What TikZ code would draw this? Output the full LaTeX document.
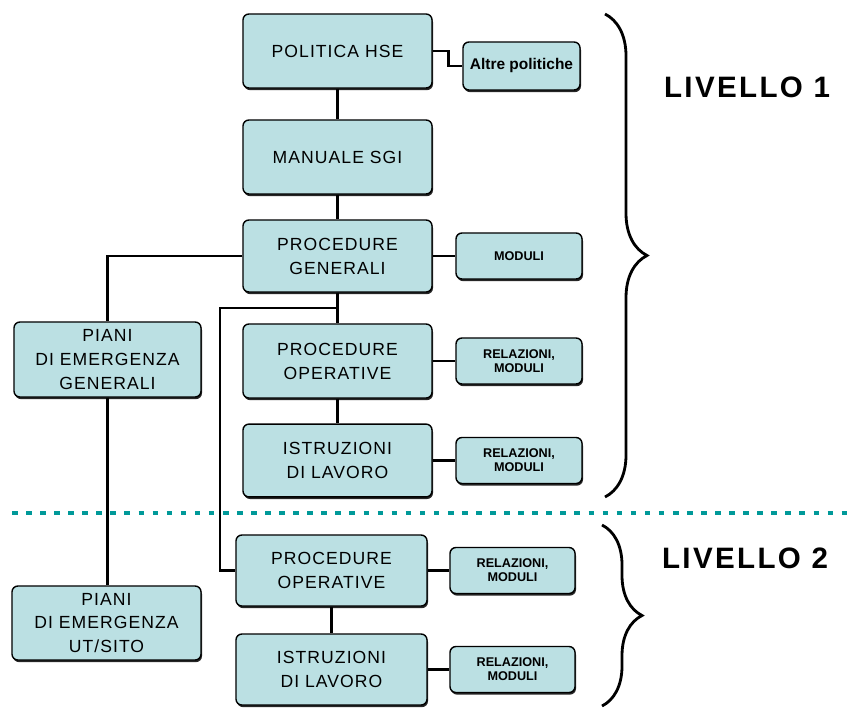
\documentclass[tikz,border=0pt]{standalone}
\usepackage{fontspec}
\setmainfont{Liberation Sans}
\newfontfamily\boxfont[LetterSpace=6]{Liberation Sans}
\newfontfamily\levelfont[LetterSpace=8]{Liberation Sans}
\usetikzlibrary{shadows,decorations.pathreplacing}
\definecolor{boxblue}{RGB}{187,224,227}
\definecolor{lineteal}{RGB}{0,153,153}

\begin{document}
\begin{tikzpicture}[x=0.025cm, y=-0.025cm,
        box/.style={draw, line width=1pt, fill=boxblue, rounded corners=0.15cm,
            drop shadow={shadow xshift=0.7pt, shadow yshift=-1.5pt, fill=black!85, opacity=1},
            align=center, inner sep=2pt, font=\boxfont\fontsize{12.5}{17}\selectfont},
        smallbox/.style={box, minimum width=3.15cm, minimum height=1.15cm,
            font=\bfseries\fontsize{9}{10}\selectfont},
        link/.style={line width=2pt},
        level/.style={font=\levelfont\bfseries\fontsize{21}{24}\selectfont}]
        \useasboundingbox (0,0) rectangle (852,709);

        % Level 1 documents
        \node[box, minimum width=4.725cm, minimum height=1.85cm] (pol) at (337.5,51) {POLITICA HSE};
        \node[box, minimum width=4.725cm, minimum height=1.85cm] (man) at (337.5,157) {MANUALE SGI};
        \node[box, minimum width=4.725cm, minimum height=1.8cm] (pgen) at (337.5,256) {PROCEDURE\\GENERALI};
        \node[box, minimum width=4.725cm, minimum height=1.85cm] (pop1) at (337.5,361) {PROCEDURE\\OPERATIVE};
        \node[box, minimum width=4.725cm, minimum height=1.82cm] (istr1) at (337.5,460.5) {ISTRUZIONI\\DI LAVORO};

        % Attached records
        \node[smallbox, minimum width=2.925cm, minimum height=1.2cm, font=\bfseries\fontsize{11}{12}\selectfont] (alt) at (521.5,66) {Altre politiche};
        \node[smallbox] (mod1) at (519,256) {MODULI};
        \node[smallbox] (rel1) at (519,361) {RELAZIONI,\\MODULI};
        \node[smallbox] (rel2) at (519,460.5) {RELAZIONI,\\MODULI};

        % Emergency plans
        \node[box, minimum width=4.675cm, minimum height=1.875cm] (pem) at (107.5,359.5) {PIANI\\DI EMERGENZA\\GENERALI};
        \node[box, minimum width=4.725cm, minimum height=1.85cm] (pemut) at (106.5,623) {PIANI\\DI EMERGENZA\\UT/SITO};

        % Level 2 documents
        \node[box, minimum width=4.775cm, minimum height=1.775cm] (pop2) at (331.5,570.5) {PROCEDURE\\OPERATIVE};
        \node[box, minimum width=4.775cm, minimum height=1.775cm] (istr2) at (331.5,669.5) {ISTRUZIONI\\DI LAVORO};
        \node[smallbox, minimum width=3.125cm] (rel3) at (512.5,570.5) {RELAZIONI,\\MODULI};
        \node[smallbox, minimum width=3.125cm] (rel4) at (512.5,669.5) {RELAZIONI,\\MODULI};

        % Connectors
        \draw[link] (pol) -- (man);
        \draw[link] (man) -- (pgen);
        \draw[link] (pgen) -- (pop1);
        \draw[link] (pop1) -- (istr1);
        \draw[link] (pop2) -- (istr2);
        \draw[link] (pol.east) -- ++(16,0) |- (alt.west);
        \draw[link] (pgen.east) -- (mod1.west);
        \draw[link] (pop1.east) -- (rel1.west);
        \draw[link] (istr1.east) -- (rel2.west);
        \draw[link] (pop2.east) -- (rel3.west);
        \draw[link] (istr2.east) -- (rel4.west);
        \draw[link] (pgen.west) -| (pem.north);
        \draw[link] (pem.south) -- (pem.south |- pemut.north);
        \coordinate (jn) at (337.5,308);
        \coordinate (bus) at (220,308);
        \draw[link] (jn) -- (bus) |- (pop2.west);

        % Level separator
        \draw[lineteal, line width=2.5pt, dash pattern=on 4pt off 6pt] (12,513) -- (852,513);

        % Braces and level labels
        \draw[line width=2pt, decorate, decoration={brace, amplitude=1.05cm}] (605,14) -- (605,497);
        \draw[line width=2pt, decorate, decoration={brace, amplitude=1cm}] (602,525) -- (602,706);
        \node[level] (liv1) at (747,87) {LIVELLO 1};
        \node[level] (liv2) at (745,558) {LIVELLO 2};
    \end{tikzpicture}
\end{document}
